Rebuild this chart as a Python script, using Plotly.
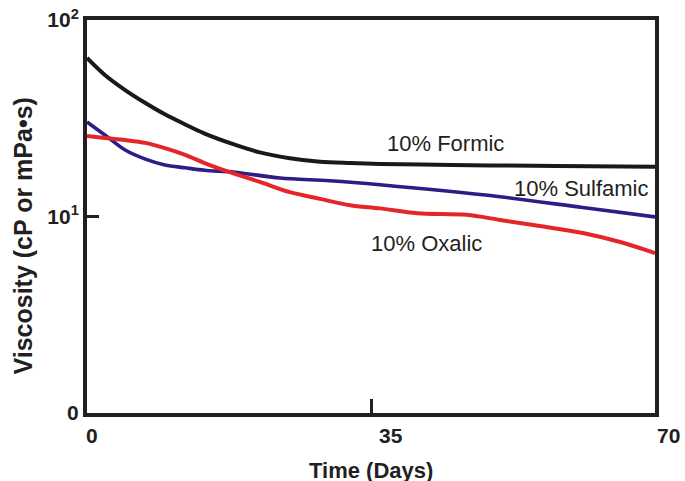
import plotly.graph_objects as go

formic_days = [0, 2.2, 4.7, 7.2, 9.6, 12.1, 14.5, 18.2, 21.3, 25.0, 28.7, 32.4, 36.1, 45, 55, 62, 70]
formic = [64.1, 52.5, 44.0, 37.8, 33.1, 29.4, 26.4, 23.2, 21.2, 19.8, 19.0, 18.7, 18.5, 18.3, 18.1, 18.0, 17.9]

sulfamic_days = [0, 2.2, 4.7, 7.2, 9.6, 12.1, 14.5, 18.2, 23.8, 29.9, 36.1, 50.9, 61.1, 70]
sulfamic = [30.3, 26.0, 21.8, 19.6, 18.3, 17.7, 17.2, 16.8, 15.7, 15.2, 14.5, 12.6, 11.1, 9.95]

oxalic_days = [0, 2.2, 4.7, 7.2, 9.6, 12.1, 14.5, 17.6, 21.3, 25.0, 28.7, 32.4, 36.1, 40.7, 46.8, 50.9, 55.8, 61.1, 65.7, 70]
oxalic = [25.7, 25.1, 24.5, 23.7, 22.3, 20.6, 18.7, 16.8, 15.0, 13.3, 12.3, 11.4, 11.0, 10.4, 10.2, 9.6, 8.95, 8.24, 7.42, 6.52]

x_ticks = [0, 35, 70]
x_tick_labels = ["0", "35", "70"]
y_ticks = [1, 10, 100]
y_tick_labels = ["<b>0</b>", "<b>10<sup>1</sup></b>", "<b>10<sup>2</sup></b>"]

FONT = "Liberation Sans, Arial, sans-serif"
INK = "#231f20"

fig = go.Figure()
fig.add_trace(go.Scatter(x=formic_days, y=formic, mode="lines",
                         line=dict(color="#1c1819", width=4, shape="spline", smoothing=0.9)))
fig.add_trace(go.Scatter(x=sulfamic_days, y=sulfamic, mode="lines",
                         line=dict(color="#2c1d87", width=3.6, shape="spline", smoothing=0.9)))
fig.add_trace(go.Scatter(x=oxalic_days, y=oxalic, mode="lines",
                         line=dict(color="#e4262a", width=4, shape="spline", smoothing=0.9)))

annotations = []
for xv, lab, dx in zip(x_ticks, x_tick_labels, [5, 20, 13]):
    annotations.append(dict(x=xv, y=0, xref="x", yref="paper", text="<b>" + lab + "</b>",
                            showarrow=False, xanchor="center", yanchor="middle", xshift=dx, yshift=-22,
                            font=dict(family=FONT, size=21, color=INK)))
annotations += [
    dict(x=44.2, y=(413 - 143) / 196.5, xref="x", yref="y", text="10% Formic", showarrow=False,
         xanchor="center", yanchor="middle", font=dict(family=FONT, size=22, color=INK)),
    dict(x=61.0, y=(413 - 188) / 196.5, xref="x", yref="y", text="10% Sulfamic", showarrow=False,
         xanchor="center", yanchor="middle", font=dict(family=FONT, size=22, color=INK)),
    dict(x=41.9, y=(413 - 243) / 196.5, xref="x", yref="y", text="10% Oxalic", showarrow=False,
         xanchor="center", yanchor="middle", font=dict(family=FONT, size=22, color=INK)),
    dict(x=0.5, y=0, xref="paper", yref="paper", text="<b>Time (Days)</b>", showarrow=False,
         xanchor="center", yanchor="middle", yshift=-57, font=dict(family=FONT, size=22, color=INK)),
    dict(x=0, y=0.5, xref="paper", yref="paper", text="<b>Viscosity (cP or mPa•s)</b>", showarrow=False,
         textangle=-90, xanchor="center", yanchor="middle", xshift=-65, yshift=-20,
         font=dict(family=FONT, size=25, color=INK)),
]

fig.update_layout(
    width=685, height=481,
    margin=dict(l=87, r=30, t=20, b=68),
    plot_bgcolor="white", paper_bgcolor="white",
    showlegend=False,
    annotations=annotations,
    xaxis=dict(range=[0, 70], tickvals=[35], ticks="inside", ticklen=14, tickwidth=3, tickcolor=INK,
               showticklabels=False, showgrid=False, zeroline=False, automargin=False,
               showline=True, linewidth=4, linecolor=INK, mirror=True),
    yaxis=dict(type="log", range=[0, 2], tickvals=y_ticks, ticktext=y_tick_labels,
               ticks="inside", ticklen=12, tickwidth=3, tickcolor=INK,
               tickfont=dict(family=FONT, size=21, color=INK), ticklabeloverflow="allow",
               showgrid=False, zeroline=False, automargin=False,
               showline=True, linewidth=4, linecolor=INK, mirror=True),
)

fig.write_html("out.html", config={"displayModeBar": False},
               post_script="document.body.style.margin='0';")
